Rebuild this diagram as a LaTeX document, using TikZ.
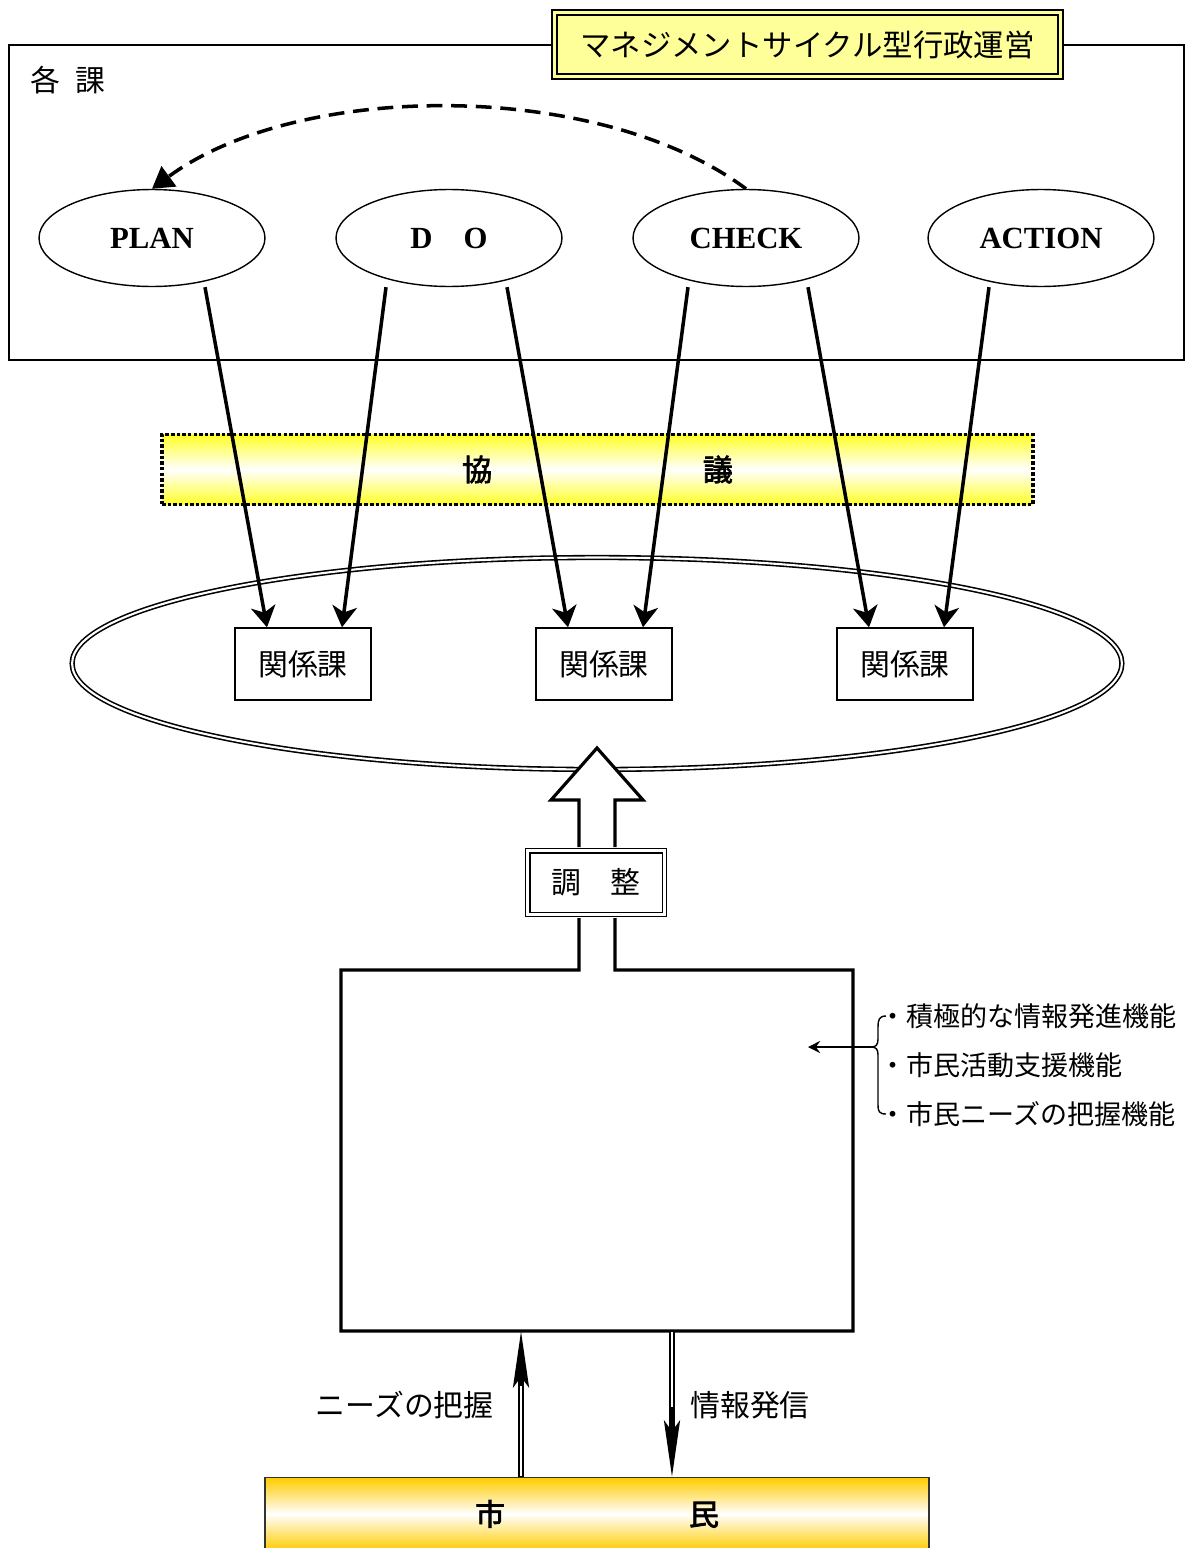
\documentclass[tikz,border=0pt]{standalone}
\usepackage{fontspec}
\setmainfont{Liberation Serif}
\newfontfamily\jp[AutoFakeBold=2.5]{Noto Sans CJK JP}
\usetikzlibrary{arrows.meta,shapes.geometric}
\definecolor{titlefill}{RGB}{255,255,153}
\definecolor{bandyellow}{RGB}{255,255,40}
\definecolor{bandgold}{RGB}{255,204,0}

\begin{document}
\begin{tikzpicture}[x=0.02cm,y=-0.02cm,
    pdca/.style={draw,ellipse,line width=0.8pt,minimum width=4.52cm,minimum height=1.94cm,
      font=\fontsize{17.5}{20}\selectfont\bfseries},
    kakari/.style={draw,line width=0.8pt,minimum width=2.72cm,minimum height=1.44cm,
      font=\jp\fontsize{17}{20}\selectfont},
    flow/.style={line width=2pt,-{Stealth[length=12pt,width=14pt,inset=3.5pt]}},
    updown/.style={line width=3.4pt,-{Stealth[length=32pt,width=9pt,inset=6pt]}},
    core/.style={white,line width=1.1pt},
    item/.style={anchor=west,inner sep=0pt,font=\jp\fontsize{15.4}{18}\selectfont},
    lbl/.style={inner sep=0pt,font=\jp\fontsize{17}{20}\selectfont}]

    \useasboundingbox (0,0) rectangle (1185,1548);

    % each section
    \draw[line width=0.8pt] (9,45) rectangle (1184,360);
    \node[draw,line width=1.1pt,double=titlefill,double distance=1.7pt,fill=titlefill,
      minimum width=10.12cm,minimum height=1.28cm,font=\jp\fontsize{17.3}{20}\selectfont]
      (title) at (807.5,44.5) {マネジメントサイクル型行政運営};
    \node[lbl,anchor=west] (kakuka) at (30,80) {各\hspace{0.3cm}課};

    \node[pdca] (plan) at (152,238) {PLAN};
    \node[pdca] (do) at (449,238) {D\hspace{0.62cm}O};
    \node[pdca] (check) at (746,238) {CHECK};
    \node[pdca] (action) at (1041,238) {ACTION};

    \draw[line width=2pt,dash pattern=on 9pt off 5pt,-{Triangle[length=12pt,width=14pt]}]
      (check.north) .. controls (600,80) and (300,80) .. (plan.north);

    % consultation
    \node[draw,line width=2.1pt,dash pattern=on 2pt off 1.2pt,
      top color=bandyellow,bottom color=bandyellow,middle color=white,
      minimum width=17.42cm,minimum height=1.4cm,font=\jp\bfseries\fontsize{17}{20}\selectfont]
      (kyogi) at (597.5,469.5) {協\hspace{4.22cm}議};

    \node[draw,ellipse,line width=0.9pt,double,double distance=1.2pt,
      minimum width=21cm,minimum height=4.24cm] (ring) at (597,663.5) {};

    \node[kakari] (ka1) at (303,664) {関係課};
    \node[kakari] (ka2) at (604,664) {関係課};
    \node[kakari] (ka3) at (905,664) {関係課};

    \draw[flow] ([xshift=1.06cm]plan.south) -- ([xshift=-0.72cm]ka1.north);
    \draw[flow] ([xshift=-1.26cm]do.south) -- ([xshift=0.78cm]ka1.north);
    \draw[flow] ([xshift=1.16cm]do.south) -- ([xshift=-0.72cm]ka2.north);
    \draw[flow] ([xshift=-1.16cm]check.south) -- ([xshift=0.78cm]ka2.north);
    \draw[flow] ([xshift=1.24cm]check.south) -- ([xshift=-0.72cm]ka3.north);
    \draw[flow] ([xshift=-1.04cm]action.south) -- ([xshift=0.78cm]ka3.north);

    % coordination box
    \node[minimum width=10.24cm,minimum height=7.22cm,inner sep=0pt,outer sep=0pt]
      (hub) at (597,1150.5) {};
    \draw[line width=1.8pt] (579,918) -- (579,970) -- (hub.north west) -- (hub.south west)
      -- (hub.south east) -- (hub.north east) -- (615,970) -- (615,918);
    \draw[line width=1.8pt,fill=white] (579,847) -- (579,800) -- (551,800) -- (597,748)
      -- (643,800) -- (615,800) -- (615,847);
    \node[draw,line width=0.9pt,double,double distance=1.6pt,fill=white,
      minimum width=2.74cm,minimum height=1.28cm,font=\jp\fontsize{17}{20}\selectfont]
      (chosei) at (596,882.5) {調\hspace{0.6cm}整};

    \coordinate (bracetip) at (871,1047);
    \draw[line width=0.8pt] (886,1016) .. controls (879,1016) and (878,1020) .. (878,1027)
      -- (878,1039) .. controls (878,1045) and (876,1047) .. (bracetip)
      .. controls (876,1047) and (878,1049) .. (878,1055)
      -- (878,1105) .. controls (878,1111) and (879,1114) .. (886,1114);
    \coordinate (inside) at (808,1047);
    \draw[line width=0.8pt,-{Stealth[length=7pt,width=7pt,inset=2.5pt]}] (bracetip) -- (inside);

    \node[item] (f1) at (879,1016) {・積極的な情報発進機能};
    \node[item] (f2) at (879,1065) {・市民活動支援機能};
    \node[item] (f3) at (879,1114) {・市民ニーズの把握機能};

    % citizens
    \node[draw=black!80,line width=0.8pt,top color=bandgold,bottom color=bandgold,middle color=white,
      minimum width=13.28cm,minimum height=1.45cm,anchor=north,
      font=\jp\bfseries\fontsize{17}{20}\selectfont]
      (shimin) at (597,1477) {市\hspace{3.68cm}民};

    \draw[updown] ([xshift=-1.52cm]shimin.north) -- ([xshift=-1.52cm]hub.south);
    \draw[core] ([xshift=-1.52cm,yshift=0.03cm]shimin.north) -- ([xshift=-1.52cm,yshift=-1.1cm]hub.south);
    \draw[updown] ([xshift=1.5cm]hub.south) -- ([xshift=1.5cm]shimin.north);
    \draw[core] ([xshift=1.5cm,yshift=-0.03cm]hub.south) -- ([xshift=1.5cm,yshift=1.4cm]shimin.north);

    \node[lbl,anchor=east] (needs) at (494,1405) {ニーズの把握};
    \node[lbl,anchor=west] (hasshin) at (690,1405) {情報発信};
\end{tikzpicture}
\end{document}
